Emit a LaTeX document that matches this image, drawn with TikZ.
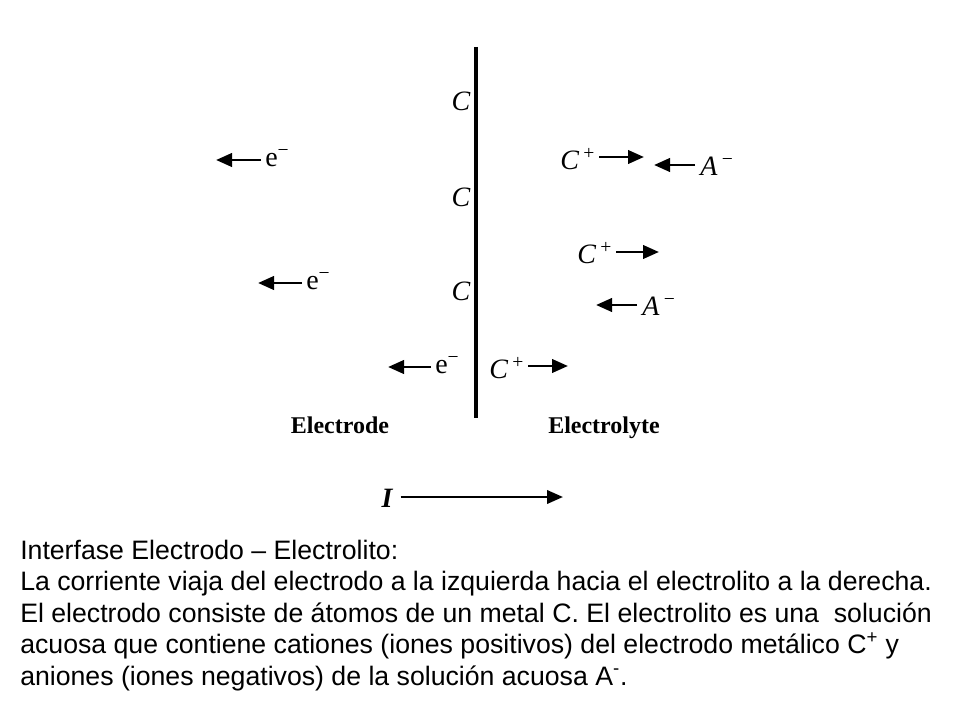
\documentclass[tikz,border=0pt]{standalone}
\usepackage{fontspec}
\setmainfont{Liberation Serif}
\newfontfamily\capfont{Liberation Sans}
\usetikzlibrary{arrows.meta}
\newcommand{\supm}{\textsuperscript{\,−}}
\newcommand{\supe}{\textsuperscript{−}}
\newcommand{\supp}{\textsuperscript{\,+}}
\begin{document}
\begin{tikzpicture}[x=0.75pt,y=-0.75pt,
  lbl/.style={inner sep=0pt,font=\fontsize{21}{24}\selectfont\itshape},
  elab/.style={inner sep=0pt,font=\fontsize{21}{24}\selectfont},
  side/.style={inner sep=0pt,anchor=base,font=\fontsize{18}{20}\selectfont\bfseries},
  arr/.style={line width=2.2pt,-{Triangle[length=12pt,width=10pt]}},
  wall/.style={line width=3.2pt},
  capline/.style={anchor=base west,inner sep=0pt,font=\capfont\fontsize{20}{23.6}\selectfont}]
\useasboundingbox (0,0) rectangle (960,720);
% electrode/electrolyte wall
\coordinate (wt) at (476,47);
\coordinate (wb) at (476,418);
\draw[wall] (wt) -- (wb);
% C atoms
\node[lbl] (c1) at (461,101) {C};
\node[lbl] (c2) at (461,197) {C};
\node[lbl] (c3) at (461,291) {C};
% electrons
\node[elab,anchor=west] (e1) at (265,158) {e\supe};
\coordinate (e1t) at (216,160);
\draw[arr] (e1.west) ++(-4,2) coordinate (e1s) (e1s) -- (e1t);
\node[elab,anchor=west] (e2) at (306,281) {e\supe};
\coordinate (e2t) at (258,283);
\draw[arr] (e2.west) ++(-4,2) coordinate (e2s) (e2s) -- (e2t);
\node[elab,anchor=west] (e3) at (435,365) {e\supe};
\coordinate (e3t) at (388,367);
\draw[arr] (e3.west) ++(-4,2) coordinate (e3s) (e3s) -- (e3t);
% cations
\node[lbl,anchor=west] (cp1) at (560,159) {C\supp};
\coordinate (cp1t) at (644,157);
\draw[arr] (cp1.east) ++(3,-2) coordinate (cp1s) (cp1s) -- (cp1t);
\node[lbl,anchor=west] (cp2) at (577,253) {C\supp};
\coordinate (cp2t) at (659,252);
\draw[arr] (cp2.east) ++(3,-1) coordinate (cp2s) (cp2s) -- (cp2t);
\node[lbl,anchor=west] (cp3) at (489,368) {C\supp};
\coordinate (cp3t) at (568,366);
\draw[arr] (cp3.east) ++(3,-2) coordinate (cp3s) (cp3s) -- (cp3t);
% anions
\node[lbl,anchor=west] (a1) at (700,166) {A\supm};
\coordinate (a1t) at (654,165);
\draw[arr] (a1.west) ++(-5,-1) coordinate (a1s) (a1s) -- (a1t);
\node[lbl,anchor=west] (a2) at (642,306) {A\supm};
\coordinate (a2t) at (596,305);
\draw[arr] (a2.west) ++(-5,-1) coordinate (a2s) (a2s) -- (a2t);
% side labels
\node[side] (electrode) at (340,433) {Electrode};
\node[side] (electrolyte) at (604,433) {Electrolyte};
% current
\node[lbl,font=\fontsize{21}{24}\selectfont\bfseries\itshape] (cur) at (387,498) {I};
\coordinate (curt) at (563,497);
\draw[arr,line width=2pt] (cur.east) ++(8,-1) coordinate (curs) (curs) -- (curt);
% caption
\node[capline] (cap1) at (20,559) {Interfase Electrodo – Electrolito:};
\node[capline] (cap2) at (20,590.5) {La corriente viaja del electrodo a la izquierda hacia el electrolito a la derecha.};
\node[capline] (cap3) at (20,622) {El electrodo consiste de átomos de un metal C. El electrolito es una\ \ solución};
\node[capline] (cap4) at (20,653.5) {acuosa que contiene cationes (iones positivos) del electrodo metálico C\textsuperscript{+} y};
\node[capline] (cap5) at (20,685) {aniones (iones negativos) de la solución acuosa A\textsuperscript{-}.};
\end{tikzpicture}
\end{document}
